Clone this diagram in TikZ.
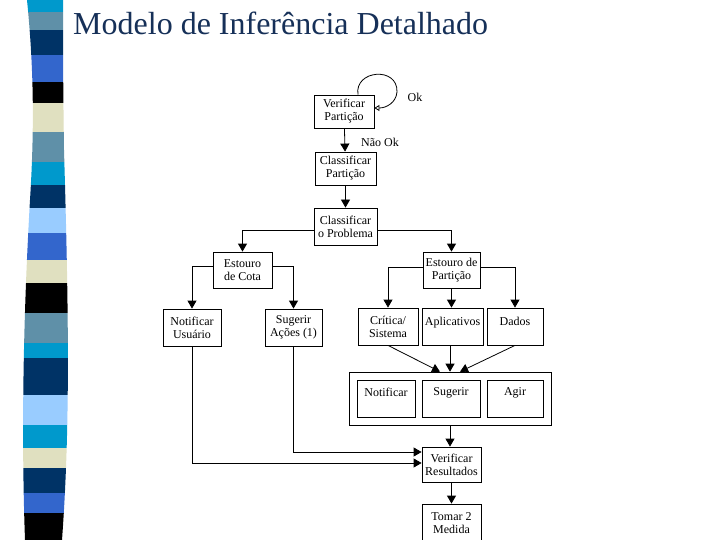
\documentclass[tikz,border=0pt]{standalone}
\usepackage{fontspec}
\setmainfont{Liberation Serif}
\usetikzlibrary{arrows.meta,fit}

\definecolor{faixaCiano}{RGB}{0,153,204}
\definecolor{faixaAco}{RGB}{95,144,168}
\definecolor{faixaMarinho}{RGB}{0,51,102}
\definecolor{faixaAzul}{RGB}{51,102,204}
\definecolor{faixaBege}{RGB}{224,224,192}
\definecolor{faixaClaro}{RGB}{153,204,255}
\definecolor{corTitulo}{RGB}{22,48,88}

\tikzset{
  caixa/.style={draw, line width=0.8pt, align=center, inner sep=0pt,
    font=\fontsize{12}{13}\selectfont},
  rotulo/.style={inner sep=0pt, font=\fontsize{12}{13}\selectfont},
  seta/.style={line width=0.8pt, -{Triangle[width=9pt,length=8pt]}},
  linha/.style={line width=0.8pt},
  laco/.style={line width=0.8pt, -{Triangle[open,width=6pt,length=5pt]}}
}

\begin{document}
\begin{tikzpicture}[x=1pt,y=-1pt]
    \useasboundingbox (0,0) rectangle (720,540);
    \fill[white] (0,0) rectangle (720,540);
    \clip (0,0) rectangle (720,540);

    % barra listrada
    \begin{scope}
        \clip (27,0) .. controls (33,60) and (35,120) .. (30,200)
              .. controls (26,270) and (20,400) .. (25,540)
              -- (62,540) .. controls (70,430) and (69,320) .. (64,150)
              .. controls (63,80) and (63,40) .. (63,0) -- cycle;
        \fill[faixaCiano]   (0,0)   rectangle (80,12);
        \fill[faixaAco]     (0,12)  rectangle (80,30);
        \fill[faixaMarinho] (0,30)  rectangle (80,55);
        \fill[faixaAzul]    (0,55)  rectangle (80,82);
        \fill[black]        (0,82)  rectangle (80,103);
        \fill[faixaBege]    (0,103) rectangle (80,132);
        \fill[faixaAco]     (0,132) rectangle (80,162);
        \fill[faixaCiano]   (0,162) rectangle (80,185);
        \fill[faixaMarinho] (0,185) rectangle (80,208);
        \fill[faixaClaro]   (0,208) rectangle (80,233);
        \fill[faixaAzul]    (0,233) rectangle (80,260);
        \fill[faixaBege]    (0,260) rectangle (80,283);
        \fill[black]        (0,283) rectangle (80,313);
        \fill[faixaAco]     (0,313) rectangle (80,343);
        \fill[faixaCiano]   (0,343) rectangle (80,358);
        \fill[faixaMarinho] (0,358) rectangle (80,395);
        \fill[faixaClaro]   (0,395) rectangle (80,425);
        \fill[faixaCiano]   (0,425) rectangle (80,448);
        \fill[faixaBege]    (0,448) rectangle (80,468);
        \fill[faixaMarinho] (0,468) rectangle (80,493);
        \fill[faixaAzul]    (0,493) rectangle (80,513);
        \fill[black]        (0,513) rectangle (80,540);
    \end{scope}

    \node [anchor=base west, inner sep=0pt, text=corTitulo,
           font=\fontsize{32}{36}\selectfont] (titulo) at (73,35)
          {Modelo de Inferência Detalhado};

    % caixas
    \node [caixa, minimum width=60, minimum height=33] (verPart) at (344,111.5) {Verificar\\Partição};
    \node [caixa, minimum width=61, minimum height=33] (clasPart) at (345.5,168.5) {Classificar\\Partição};
    \node [caixa, minimum width=63, minimum height=37] (clasProb) at (345.5,226.5) {Classificar\\o Problema};
    \node [caixa, minimum width=59, minimum height=36] (estCota) at (242.5,270) {Estouro\\de Cota};
    \node [caixa, minimum width=57, minimum height=36] (estPart) at (451.5,270) {Estouro de\\Partição};
    \node [caixa, minimum width=58, minimum height=37] (notUsu) at (192,327.5) {Notificar\\Usuário};
    \node [caixa, minimum width=57, minimum height=37] (sugAc) at (293.5,327.5) {Sugerir\\Ações (1)};
    \node [caixa, minimum width=60, minimum height=37] (critica) at (388,326.5) {Crítica/\\Sistema};
    \node [caixa, minimum width=61, minimum height=37] (aplic) at (452.5,326.5) {Aplicativos\\[-3pt]\mbox{}};
    \node [caixa, minimum width=56, minimum height=37] (dados) at (515,326.5) {Dados\\[-3pt]\mbox{}};
    \node [caixa, minimum width=58, minimum height=37] (notif) at (386,398.5) {Notificar\\\mbox{}};
    \node [caixa, minimum width=58, minimum height=37] (suger) at (451,398.5) {Sugerir\\\mbox{}};
    \node [caixa, minimum width=56, minimum height=37] (agir) at (515,398.5) {Agir\\\mbox{}};
    \node [draw, line width=0.8pt, inner sep=7.5pt, fit=(notif)(suger)(agir)] (acoes) {};
    \node [caixa, minimum width=59, minimum height=35] (verRes) at (451.5,464.5) {Verificar\\Resultados};
    \node [caixa, minimum width=59, minimum height=38] (tomar) at (451.5,523) {Tomar 2\\Medida};

    \node [rotulo] (ok) at (415,97) {Ok};
    \node [rotulo] (naoOk) at (380,142) {Não Ok};

    % ligacoes
    \draw[laco] ([xshift=14pt]verPart.north) .. controls (354,70) and (398,66) .. (397,92)
        .. controls (396,103) and (386,108) .. ([yshift=3.5pt]verPart.east);
    \draw[seta] (verPart) -- (clasPart);
    \draw[seta] (clasPart) -- (clasProb);
    \draw[seta] ([yshift=-3.5pt]clasProb.west) -| (estCota.north);
    \draw[seta] ([yshift=-3.5pt]clasProb.east) -| (estPart.north);
    \draw[seta] ([yshift=4pt]estCota.west) -| (notUsu.north);
    \draw[seta] ([yshift=4pt]estCota.east) -| (sugAc.north);
    \draw[seta] ([yshift=3pt]estPart.west) -| (critica.north);
    \draw[seta] ([yshift=3pt]estPart.east) -| (dados.north);
    \draw[seta] (estPart.south) -- (estPart.south |- aplic.north);
    \draw[seta] (critica.south) -- ([xshift=-10pt]acoes.north);
    \draw[seta] (aplic.south -| acoes.north) -- (acoes.north);
    \draw[seta] (dados.south) -- ([xshift=10pt]acoes.north);
    \draw[seta] (acoes.south) -- (acoes.south |- verRes.north);
    \draw[seta] (sugAc.south) |- ([yshift=12.5pt]verRes.west);
    \draw[seta] (notUsu.south) |- ([yshift=1.5pt]verRes.west);
    \draw[seta] (verRes) -- (tomar);
\end{tikzpicture}
\end{document}
